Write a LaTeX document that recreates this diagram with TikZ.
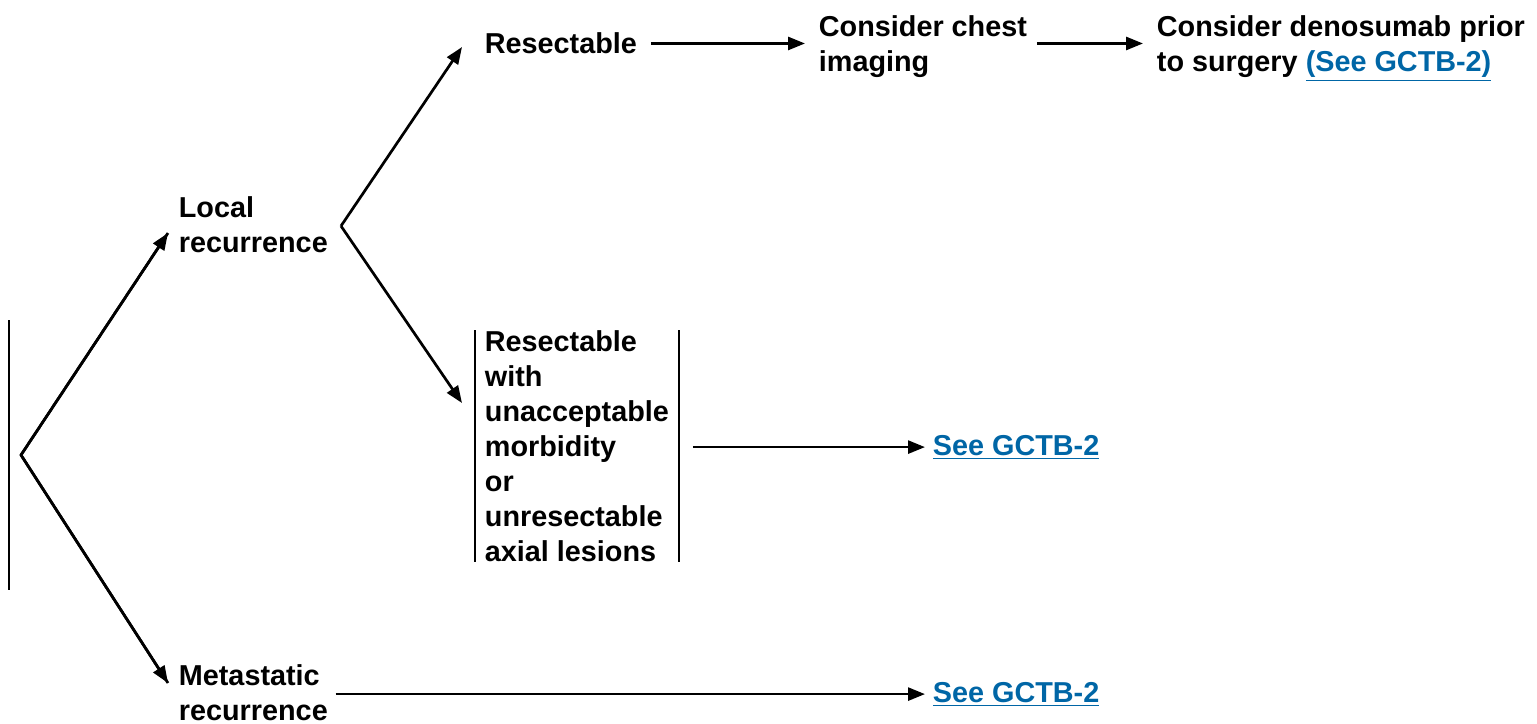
\documentclass[tikz,border=0pt]{standalone}
\usepackage{fontspec}
\setmainfont{Liberation Sans}
\usetikzlibrary{arrows.meta}
\definecolor{linkblue}{RGB}{0,102,166}
\begin{document}
\begin{tikzpicture}[x=0.5pt,y=0.5pt,yscale=-1,xscale=1,
  lbl/.style={anchor=north west,inner sep=0.75pt,align=left,font=\fontsize{14.4}{17.5}\selectfont\bfseries},
  lnk/.style={lbl,text=linkblue},
  arr/.style={-{Triangle[length=8.5pt,width=6.5pt]},line width=1.35pt},
  bar/.style={line width=1.35pt}]
\useasboundingbox (0,0) rectangle (1537,723);

% Branch points
\coordinate (br1) at (21,455);
\coordinate (br2) at (341,226);
\coordinate (tipLocal) at (168,233);
\coordinate (tipMeta) at (168,683);
\coordinate (tipRes) at (462,47);
\coordinate (tipUnres) at (462,403);

% Text Node
\node [lbl] (local) at (177,195) {Local\\recurrence};
\node [lbl] (meta) at (177,663) {Metastatic\\recurrence};
\node [lbl] (resect) at (483,31) {Resectable};
\node [lbl] (chest) at (817,14) {Consider chest\\imaging};
\node [lbl] (denos) at (1155,14) {Consider denosumab prior\\to surgery \textcolor{linkblue}{\underline{(See GCTB-2)}}};
\node [lbl] (unres) at (483,329) {Resectable\\with\\unacceptable\\morbidity\\or\\unresectable\\axial lesions};
\node [lnk] (see1) at (931,433) {\underline{See GCTB-2}};
\node [lnk] (see2) at (931,680) {\underline{See GCTB-2}};

% Bars
\draw [bar] (9,320) -- (9,590);
\draw [bar] (475,330) -- (475,562);
\draw [bar] (679,330) -- (679,562);

% Connectors
\draw [bar] (tipLocal) -- (br1) -- (tipMeta);
\draw [arr] (br1) -- (tipLocal);
\draw [arr] (br1) -- (tipMeta);
\draw [arr] (br2) -- (tipRes);
\draw [arr] (br2) -- (tipUnres);
\draw [arr,shorten <=6pt,shorten >=6pt] (resect.east) -- (resect.east -| chest.west);
\draw [arr,shorten <=4pt,shorten >=6pt] (chest.east |- resect.east) -- (denos.west |- resect.east);
\draw [arr,shorten <=11pt,shorten >=3pt] (see1.west -| unres.east) -- (see1.west);
\draw [arr,shorten <=3pt,shorten >=3pt] (see2.west -| meta.east) -- (see2.west);
\end{tikzpicture}
\end{document}
